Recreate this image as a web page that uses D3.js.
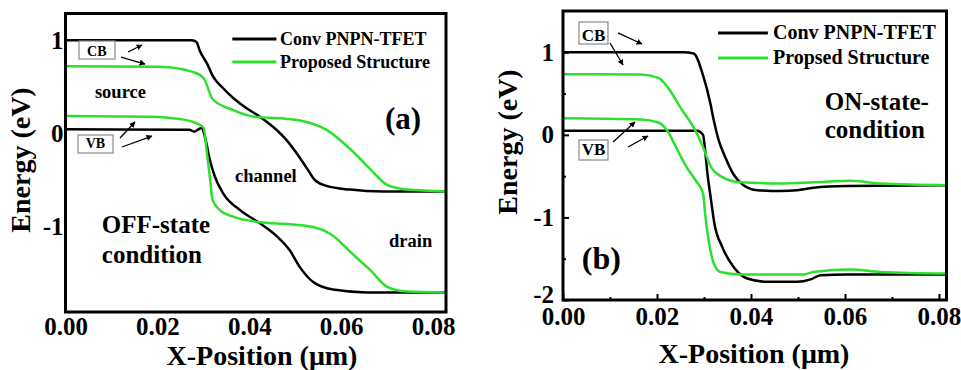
<!DOCTYPE html>
<html>
<head>
<meta charset="utf-8">
<script src="https://cdn.jsdelivr.net/npm/d3@7/dist/d3.min.js"></script>
<style>
  body { margin: 0; background: #fff; }
  svg text { font-family: "Liberation Serif", "Times New Roman", "DejaVu Serif", serif; font-weight: bold; fill: #000; }
</style>
</head>
<body>
<div id="chart"></div>
<script>
// band edges, [x position (um), energy (eV)]
// (a) OFF-state
var off_conv_cb = [[0,1.0],[0.0275,1.0],[0.0285,0.98],[0.0292,0.89],[0.031,0.73],[0.032,0.62],[0.0342,0.49],[0.0365,0.38],[0.0394,0.27],[0.0423,0.18],[0.0452,0.07],[0.0481,-0.07],[0.0503,-0.21],[0.0525,-0.37],[0.0543,-0.50],[0.0568,-0.56],[0.0619,-0.60],[0.0692,-0.62],[0.0828,-0.62]];
var off_prop_cb = [[0,0.72],[0.0205,0.715],[0.0277,0.66],[0.0301,0.59],[0.032,0.37],[0.0365,0.25],[0.041,0.18],[0.0474,0.16],[0.051,0.14],[0.0568,0.04],[0.0627,-0.2],[0.0663,-0.38],[0.07,-0.55],[0.0743,-0.60],[0.0828,-0.62]];
var off_conv_vb = [[0,0.045],[0.027,0.04],[0.028,0.02],[0.0296,0.06],[0.0305,-0.07],[0.0314,-0.28],[0.0325,-0.46],[0.0343,-0.64],[0.038,-0.82],[0.0423,-0.96],[0.046,-1.1],[0.0488,-1.25],[0.051,-1.43],[0.0539,-1.59],[0.0582,-1.67],[0.0656,-1.70],[0.0828,-1.70]];
var off_prop_vb = [[0,0.187],[0.0183,0.18],[0.0249,0.155],[0.0285,0.11],[0.0301,0.06],[0.0307,-0.18],[0.0314,-0.46],[0.032,-0.71],[0.0336,-0.82],[0.0365,-0.89],[0.0423,-0.95],[0.0488,-0.97],[0.0539,-1.0],[0.0575,-1.07],[0.0627,-1.3],[0.0663,-1.46],[0.07,-1.64],[0.0743,-1.69],[0.0828,-1.70]];

// (b) ON-state
var on_conv_cb = [[0,1.0],[0.0256,1.0],[0.0278,0.985],[0.0298,0.72],[0.0314,0.37],[0.0321,0.17],[0.0331,-0.06],[0.0346,-0.28],[0.0363,-0.48],[0.0384,-0.61],[0.0413,-0.67],[0.0463,-0.68],[0.0498,-0.67],[0.0533,-0.64],[0.0605,-0.62],[0.0818,-0.61]];
var on_prop_cb = [[0,0.735],[0.0165,0.73],[0.0203,0.69],[0.0225,0.56],[0.025,0.33],[0.0278,0.09],[0.0296,-0.12],[0.0316,-0.40],[0.0335,-0.50],[0.0378,-0.575],[0.0463,-0.59],[0.0533,-0.575],[0.0612,-0.555],[0.0676,-0.59],[0.0818,-0.61]];
var on_conv_vb = [[0,0.05],[0.0286,0.05],[0.0298,0.0],[0.0303,-0.22],[0.0307,-0.45],[0.0314,-0.75],[0.0322,-1.07],[0.0339,-1.36],[0.0363,-1.6],[0.0392,-1.74],[0.0434,-1.78],[0.0498,-1.78],[0.0527,-1.75],[0.0548,-1.70],[0.0605,-1.69],[0.0818,-1.69]];
var on_prop_vb = [[0,0.2],[0.0165,0.185],[0.0203,0.15],[0.0222,0.05],[0.0245,-0.2],[0.0264,-0.4],[0.0282,-0.55],[0.0298,-0.71],[0.0303,-0.99],[0.031,-1.28],[0.0321,-1.56],[0.0335,-1.66],[0.0378,-1.69],[0.0512,-1.69],[0.0533,-1.66],[0.0612,-1.63],[0.0676,-1.66],[0.0818,-1.68]];

var x_ticks = [0, 0.02, 0.04, 0.06, 0.08];
var x_minor_ticks = [0.01, 0.03, 0.05, 0.07];
var y_ticks_a = [-1, 0, 1];
var y_ticks_b = [-2, -1, 0, 1];
var y_minor_ticks_b = [-1.5, -0.5, 0.5];
var legend_a = ["Conv PNPN-TFET", "Proposed Structure"];
var legend_b = ["Conv PNPN-TFET", "Propsed Structure"];

var conv_color = "#000000";
var prop_color = "#2de02d";
var serif_font = "'Liberation Serif', 'Times New Roman', 'DejaVu Serif', serif";

var svg = d3.select("#chart").append("svg")
    .attr("width", 961)
    .attr("height", 370);

// little arrow head for the CB / VB callouts
svg.append("defs").append("marker")
    .attr("id", "head")
    .attr("viewBox", "0 0 10 10")
    .attr("refX", 9).attr("refY", 5)
    .attr("markerWidth", 6).attr("markerHeight", 6)
    .attr("markerUnits", "userSpaceOnUse")
    .attr("orient", "auto")
  .append("path")
    .attr("d", "M0,0 L10,5 L0,10 z")
    .style("fill", "#000");

var panel_a = {
  left: 65.5, right: 446, top: 13.5, bottom: 312,
  xdomain: [0, 0.0828], ydomain: [-1.91, 1.285],
  yticks: y_ticks_a, ticks: false, xpad: 5, ypad: 2,
  series: [off_conv_cb, off_conv_vb, off_prop_cb, off_prop_vb],
  legend: legend_a, legend_font: 18,
  leg_line: [0.0363, 0.0459], leg_y: [1.012, 0.766], leg_text_x: 0.0467, leg_text_y: [0.948, 0.702],
  box_font: 14,
  cb_box: [0.00294, 0.01077, 0.9905, 0.798], cb_text: [0.0068, 0.83],
  vb_box: [0.00272, 0.01034, -0.0156, -0.208], vb_text: [0.0065, -0.155],
  arrows: [[0.0136, 0.873, 0.01665, 0.948], [0.01208, 0.819, 0.0173, 0.744],
           [0.01186, -0.048, 0.01512, 0.123], [0.0123, -0.144, 0.01882, -0.027]],
  notes: [
    {t: "source", x: 0.0064, y: 0.38, size: 18.5},
    {t: "channel", x: 0.0369, y: -0.52, size: 18.5},
    {t: "drain", x: 0.0704, y: -1.21, size: 18.5},
    {t: "OFF-state", x: 0.0079, y: -1.06, size: 25},
    {t: "condition", x: 0.0079, y: -1.386, size: 25},
    {t: "(a)", x: 0.0695, y: 0.049, size: 31}
  ],
  xtitle: [262, 365], ytitle: [30, 160]
};

var panel_b = {
  left: 563, right: 946.5, top: 11, bottom: 300,
  xdomain: [0, 0.0816], ydomain: [-2, 1.5],
  yticks: y_ticks_b, ticks: true, xpad: 7, ypad: 9,
  series: [on_conv_cb, on_conv_vb, on_prop_cb, on_prop_vb],
  legend: legend_b, legend_font: 20,
  leg_line: [0.033, 0.0436], leg_y: [1.2336, 0.931], leg_text_x: 0.04468, leg_text_y: [1.161, 0.858],
  box_font: 17,
  cb_box: [0.0034, 0.00957, 1.367, 1.1], cb_text: [0.0065, 1.14],
  vb_box: [0.0034, 0.00957, -0.0623, -0.3045], vb_text: [0.0065, -0.244],
  arrows: [[0.0117, 1.234, 0.0168, 1.1], [0.01, 1.112, 0.01277, 0.846],
           [0.01064, -0.087, 0.01532, 0.156], [0.01383, -0.147, 0.01809, -0.014]],
  notes: [
    {t: "ON-state-", x: 0.0557, y: 0.30, size: 25},
    {t: "condition", x: 0.0557, y: -0.038, size: 25},
    {t: "(b)", x: 0.004, y: -1.625, size: 32}
  ],
  xtitle: [754, 363], ytitle: [517, 142]
};

plot_panel(panel_a);
plot_panel(panel_b);

function plot_panel(p) {
  var x = d3.scaleLinear().domain(p.xdomain).range([p.left, p.right]);
  var y = d3.scaleLinear().domain(p.ydomain).range([p.bottom, p.top]);
  var g = svg.append("g");

  var valueline = d3.line()
      .x(function(d) { return x(d[0]); })
      .y(function(d) { return y(d[1]); })
      .curve(d3.curveMonotoneX);

  // band curves: first two conventional, last two proposed
  p.series.forEach(function(s, i) {
    g.append("path")
        .datum(s)
        .attr("d", valueline)
        .style("fill", "none")
        .style("stroke", i < 2 ? conv_color : prop_color)
        .style("stroke-width", 2.5)
        .style("stroke-linejoin", "round");
  });

  // x axis
  g.append("g")
      .attr("transform", "translate(0," + p.bottom + ")")
      .call(d3.axisBottom(x)
          .tickValues(x_ticks)
          .tickFormat(function(d) { return d.toFixed(2); })
          .tickSizeInner(p.ticks ? -6 : 0)
          .tickSizeOuter(0)
          .tickPadding(p.xpad));
  // y axis
  g.append("g")
      .attr("transform", "translate(" + p.left + ",0)")
      .call(d3.axisLeft(y)
          .tickValues(p.yticks)
          .tickFormat(function(d) { return String(d); })
          .tickSizeInner(p.ticks ? -6 : 0)
          .tickSizeOuter(0)
          .tickPadding(p.ypad));

  if (p.ticks) {
    g.append("g")
        .attr("transform", "translate(0," + p.bottom + ")")
        .call(d3.axisBottom(x).tickValues(x_minor_ticks).tickFormat("").tickSizeInner(-3).tickSizeOuter(0));
    g.append("g")
        .attr("transform", "translate(" + p.left + ",0)")
        .call(d3.axisLeft(y).tickValues(y_minor_ticks_b).tickFormat("").tickSizeInner(-3).tickSizeOuter(0));
  }

  g.selectAll(".domain").remove();
  g.selectAll(".tick line").style("stroke", "#000").style("stroke-width", 2);
  g.selectAll(".tick text")
      .style("font-size", "25px")
      .style("font-family", serif_font)
      .style("font-weight", "bold")
      .style("fill", "#000");
  // bottom "-2" sits just above the 0.00 label
  g.selectAll(".tick text").filter(function(d) { return d === -2; }).attr("dy", "0.08em");

  // frame
  g.append("rect")
      .attr("x", p.left).attr("y", p.top)
      .attr("width", p.right - p.left).attr("height", p.bottom - p.top)
      .style("fill", "none")
      .style("stroke", "#000")
      .style("stroke-width", 3);

  // legend
  [conv_color, prop_color].forEach(function(c, i) {
    g.append("line")
        .attr("x1", x(p.leg_line[0])).attr("x2", x(p.leg_line[1]))
        .attr("y1", y(p.leg_y[i])).attr("y2", y(p.leg_y[i]))
        .style("stroke", c)
        .style("stroke-width", 3);
    g.append("text")
        .attr("x", x(p.leg_text_x))
        .attr("y", y(p.leg_text_y[i]))
        .style("font-size", p.legend_font + "px")
        .text(p.legend[i]);
  });

  // CB / VB callout boxes
  [[p.cb_box, p.cb_text, "CB"], [p.vb_box, p.vb_text, "VB"]].forEach(function(b) {
    g.append("rect")
        .attr("x", x(b[0][0])).attr("y", y(b[0][2]))
        .attr("width", x(b[0][1]) - x(b[0][0]))
        .attr("height", y(b[0][3]) - y(b[0][2]))
        .style("fill", "#fff")
        .style("stroke", "#8a8a8a")
        .style("stroke-width", 1.2);
    g.append("text")
        .attr("x", x(b[1][0])).attr("y", y(b[1][1]))
        .style("text-anchor", "middle")
        .style("font-size", p.box_font + "px")
        .text(b[2]);
  });

  p.arrows.forEach(function(a) {
    g.append("line")
        .attr("x1", x(a[0])).attr("y1", y(a[1]))
        .attr("x2", x(a[2])).attr("y2", y(a[3]))
        .style("stroke", "#000")
        .style("stroke-width", 1.3)
        .attr("marker-end", "url(#head)");
  });

  // region labels
  p.notes.forEach(function(n) {
    g.append("text")
        .attr("x", x(n.x)).attr("y", y(n.y))
        .style("font-size", n.size + "px")
        .text(n.t);
  });

  // axis titles
  g.append("text")
      .attr("x", p.xtitle[0]).attr("y", p.xtitle[1])
      .style("text-anchor", "middle")
      .style("font-size", "28px")
      .text("X-Position (\u03bcm)");
  g.append("text")
      .attr("transform", "translate(" + p.ytitle[0] + "," + p.ytitle[1] + ") rotate(-90)")
      .style("text-anchor", "middle")
      .style("font-size", "28px")
      .text("Energy (eV)");
}
</script>
</body>
</html>
